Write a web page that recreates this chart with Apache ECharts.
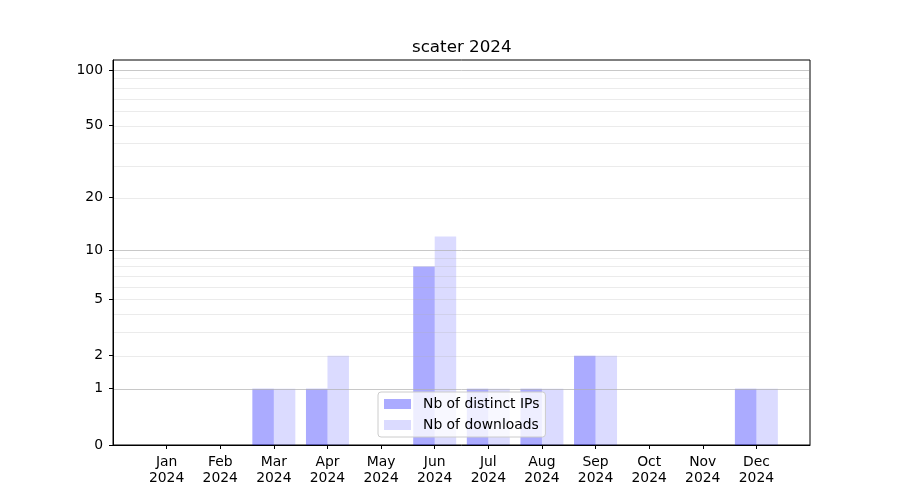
<!DOCTYPE html>
<html><head><meta charset="utf-8">
<script src="https://cdn.jsdelivr.net/npm/echarts@6/dist/echarts.min.js"></script>
<style>html,body{margin:0;padding:0;background:#fff}#c{width:900px;height:500px}</style>
</head><body><div id="c"></div>
<script>
const months = ['Jan','Feb','Mar','Apr','May','Jun','Jul','Aug','Sep','Oct','Nov','Dec'];
const year = '2024';
const distinctIPs = [0,0,1,1,0,8,1,1,2,0,0,1];
const downloads   = [0,0,1,2,0,12,1,1,2,0,0,1];
const yTickValues = [0,1,2,5,10,20,50,100];
const majorGrid = [1,10,100];
const minorGrid = [2,3,4,5,6,7,8,9,20,30,40,50,60,70,80,90];
const yMaxRaw = 113.2;

const tf = v => Math.log10(1 + v);
const font = 'DejaVu Sans';
const cats = [''].concat(months.map(m => m + '\n' + year)).concat(['']);
const pad = arr => [null].concat(arr.map(tf)).concat([null]);

const gridData = minorGrid.map(v => [0, tf(v), 0]).concat(majorGrid.map(v => [0, tf(v), 1]));
const gridColors = ['rgba(176,176,176,0.25)', 'rgba(176,176,176,0.7)'];

const chart = echarts.init(document.getElementById('c'), null, {renderer: 'canvas'});
chart.setOption({
  animation: false,
  backgroundColor: '#fff',
  title: {text: 'scater 2024', left: 407, top: 34,
    textStyle: {fontFamily: font, fontSize: 16.7, fontWeight: 'normal', color: '#000'}},
  grid: {left: 113, right: 90, top: 60, bottom: 55, show: true, borderColor: '#000', borderWidth: 1, backgroundColor: 'transparent'},
  legend: {
    left: 378, top: 392, orient: 'vertical', z: 10,
    itemWidth: 27, itemHeight: 10, itemGap: 7, icon: 'rect',
    padding: [5, 6, 5, 6],
    backgroundColor: 'rgba(255,255,255,0.8)', borderColor: '#cccccc', borderWidth: 1, borderRadius: 3,
    textStyle: {fontFamily: font, fontSize: 13.9, color: '#000', padding: [0,0,0,7]},
    itemStyle: {borderWidth: 0},
    data: ['Nb of distinct IPs', 'Nb of downloads']
  },
  xAxis: {
    type: 'category', data: cats, boundaryGap: false,
    axisLine: {show: true, lineStyle: {color: '#000', width: 1}},
    axisTick: {show: true, length: 4, interval: (i) => i > 0 && i < cats.length - 1, lineStyle: {color: '#000'}},
    axisLabel: {interval: 0, margin: 9, fontFamily: font, fontSize: 13.9, color: '#000', lineHeight: 16},
    splitLine: {show: false}
  },
  yAxis: {
    type: 'value', min: 0, max: tf(yMaxRaw),
    axisLine: {show: true, lineStyle: {color: '#000', width: 1}},
    axisTick: {show: true, length: 4, customValues: yTickValues.map(tf), lineStyle: {color: '#000'}},
    axisLabel: {customValues: yTickValues.map(tf), margin: 10, fontFamily: font, fontSize: 13.9, color: '#000',
      formatter: v => String(Math.round(Math.pow(10, v) - 1))},
    splitLine: {show: false}
  },
  series: [
    {name: 'Nb of distinct IPs', type: 'bar', data: pad(distinctIPs), barWidth: 21.5, barGap: '0%', z: 2,
      itemStyle: {color: 'rgba(0,0,255,0.33)', borderWidth: 0}},
    {name: 'Nb of downloads', type: 'bar', data: pad(downloads), barWidth: 21.5, barGap: '0%', z: 2,
      itemStyle: {color: 'rgba(0,0,255,0.14)', borderWidth: 0}},
    {type: 'custom', silent: true, z: 3, data: gridData, clip: false,
      encode: {x: 0, y: 1},
      renderItem: (params, api) => {
        const cs = params.coordSys;
        const y = Math.round(api.coord([0, api.value(1)])[1]) + 0.5;
        return {type: 'line', shape: {x1: cs.x + 1, y1: y, x2: cs.x + cs.width - 1, y2: y},
          style: {stroke: gridColors[api.value(2)], lineWidth: 1}};
      }}
  ]
});
</script></body></html>
